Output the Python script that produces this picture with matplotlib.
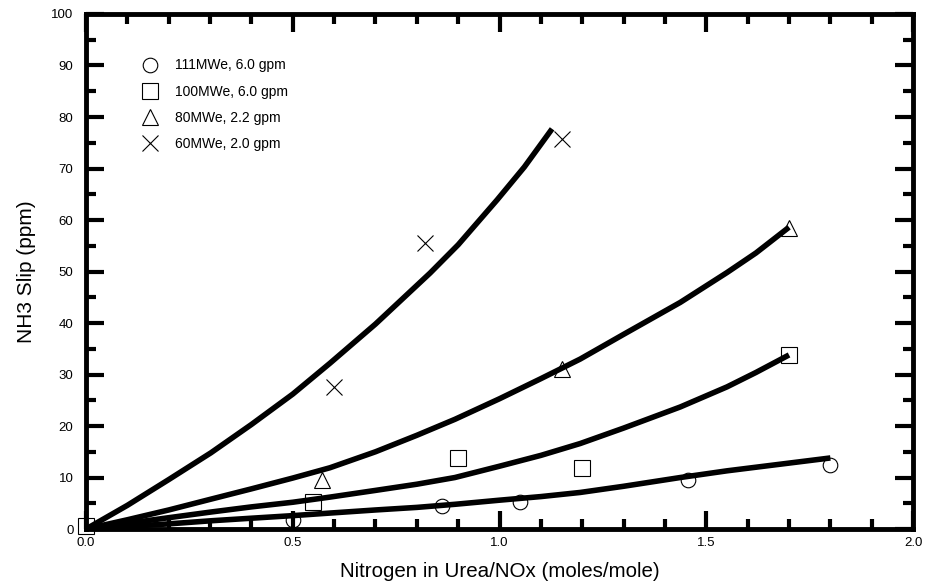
import matplotlib.pyplot as plt
from matplotlib.ticker import MultipleLocator, FormatStrFormatter

plt.rcParams['font.family'] = ['Liberation Sans', 'DejaVu Sans']

# Measured points: (N/NOx ratio, NH3 slip ppm)
mw111_x = [0.5, 0.86, 1.05, 1.455, 1.80]
mw111_y = [1.7, 4.4, 5.2, 9.6, 12.4]
mw100_x = [0.0, 0.55, 0.90, 1.20, 1.70]
mw100_y = [0.5, 5.3, 13.8, 11.8, 33.8]
mw80_x = [0.57, 1.15, 1.70]
mw80_y = [9.5, 31.0, 58.5]
mw60_x = [0.60, 0.82, 1.15]
mw60_y = [27.5, 55.5, 75.7]

# Fitted trend lines
fit111_x = [0.0, 0.1, 0.2, 0.302, 0.4, 0.5, 0.59, 0.7, 0.8, 0.892, 1.0, 1.1,
            1.195, 1.3, 1.437, 1.55, 1.68, 1.80]
fit111_y = [0.0, 0.5, 1.0, 1.6, 2.1, 2.6, 3.1, 3.7, 4.2, 4.8, 5.6, 6.3,
            7.1, 8.3, 10.0, 11.3, 12.6, 13.8]
fit100_x = [0.0, 0.1, 0.2, 0.302, 0.4, 0.5, 0.59, 0.7, 0.8, 0.892, 1.0, 1.1,
            1.195, 1.3, 1.437, 1.55, 1.62, 1.70]
fit100_y = [0.0, 1.1, 2.2, 3.3, 4.3, 5.2, 6.2, 7.5, 8.7, 10.0, 12.2, 14.3,
            16.6, 19.6, 23.7, 27.6, 30.4, 33.8]
fit80_x = [0.0, 0.1, 0.2, 0.302, 0.4, 0.5, 0.59, 0.7, 0.8, 0.892, 1.0, 1.1,
           1.195, 1.3, 1.437, 1.55, 1.62, 1.70]
fit80_y = [0.0, 1.8, 3.7, 5.8, 7.8, 9.9, 11.9, 15.0, 18.2, 21.3, 25.3, 29.2,
           33.0, 37.8, 44.0, 49.8, 53.6, 58.6]
fit60_x = [0.0, 0.1, 0.2, 0.302, 0.4, 0.5, 0.59, 0.7, 0.832, 0.9, 0.994, 1.06, 1.127]
fit60_y = [0.0, 4.6, 9.6, 14.8, 20.3, 26.2, 32.2, 39.8, 49.7, 55.2, 63.9, 70.3, 77.7]

labels = ['111MWe, 6.0 gpm', '100MWe, 6.0 gpm', '80MWe, 2.2 gpm', '60MWe, 2.0 gpm']

fig = plt.figure(figsize=(9.27, 5.88), dpi=100)
ax = fig.add_axes([0.0928, 0.1003, 0.8922, 0.8759])

# Trend lines
for fx, fy in [(fit111_x, fit111_y), (fit100_x, fit100_y),
               (fit80_x, fit80_y), (fit60_x, fit60_y)]:
    ax.plot(fx, fy, '-', color='black', lw=4, solid_capstyle='butt',
            solid_joinstyle='round', zorder=2)

# Data markers
mk = dict(linestyle='none', color='black', mfc='none', mec='black', mew=0.8,
          clip_on=False, zorder=3)
h1, = ax.plot(mw111_x, mw111_y, marker='o', ms=10.5, label=labels[0], **mk)
h2, = ax.plot(mw100_x, mw100_y, marker='s', ms=11, label=labels[1], **mk)
h3, = ax.plot(mw80_x, mw80_y, marker='^', ms=12, label=labels[2], **mk)
h4, = ax.plot(mw60_x, mw60_y, marker='x', ms=11, label=labels[3], **mk)

ax.legend(handles=[h1, h2, h3, h4], loc='upper left', bbox_to_anchor=(0.052, 0.938),
          frameon=False, fontsize=10, labelspacing=0.88, handletextpad=1.2,
          handlelength=1.2)

ax.set_xlim(0, 2.0)
ax.set_ylim(0, 100)

ax.xaxis.set_major_locator(MultipleLocator(0.5))
ax.xaxis.set_minor_locator(MultipleLocator(0.1))
ax.yaxis.set_major_locator(MultipleLocator(10))
ax.yaxis.set_minor_locator(MultipleLocator(5))
ax.xaxis.set_major_formatter(FormatStrFormatter('%.1f'))

ax.tick_params(which='both', direction='in', top=True, right=True, color='black')
ax.tick_params(which='major', length=13, width=3, labelsize=9.5, pad=6)
ax.tick_params(which='minor', length=7, width=3)
ax.tick_params(axis='y', which='major', pad=9)

for s in ax.spines.values():
    s.set_linewidth(3.5)

ax.set_xlabel('Nitrogen in Urea/NOx (moles/mole)', fontsize=14.8, labelpad=9)
ax.set_ylabel('NH3 Slip (ppm)', fontsize=15, labelpad=11)

fig.savefig('out.png', dpi=100)
